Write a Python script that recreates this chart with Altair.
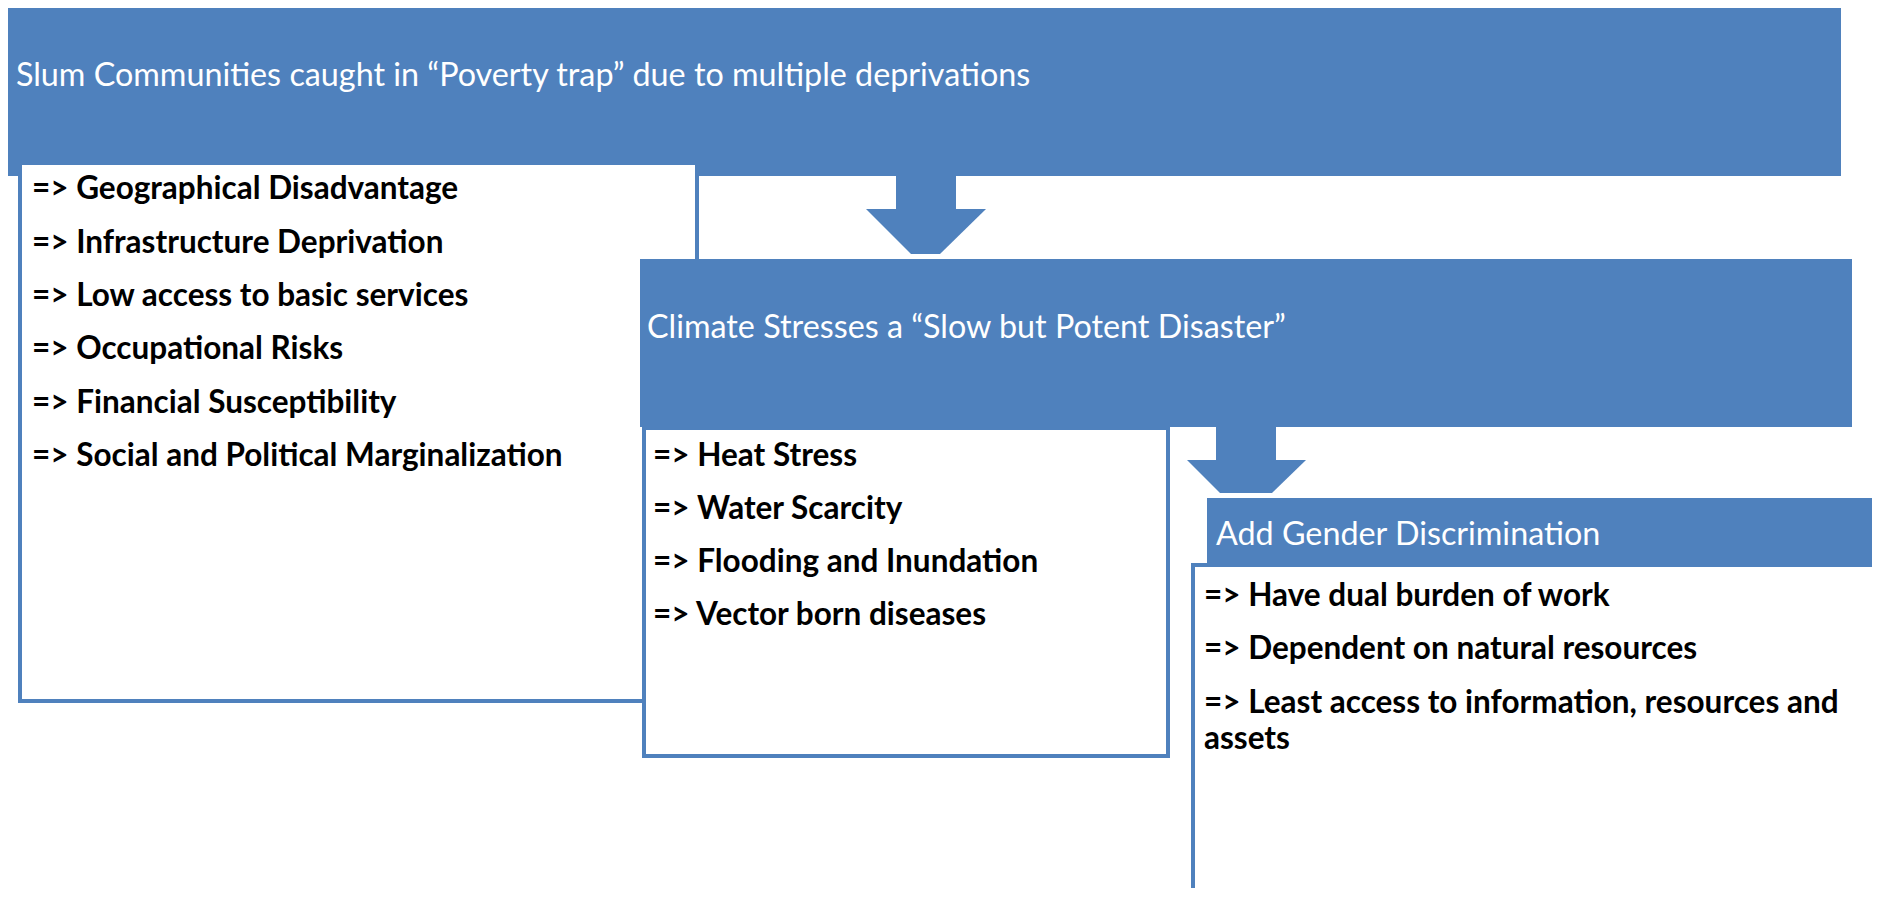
import altair as alt
import pandas as pd

BLUE = "#4F81BD"

# ---- boxes (pixel coordinates of the diagram) ----
rect_names = ["header1", "box1", "header2", "box2", "header3", "box3"]
rect_x0 = [8, 20, 640, 644, 1207, 1193]
rect_x1 = [1841, 697, 1852, 1168, 1900, 1900]
rect_y0 = [8, 163, 259, 428, 498, 565]
rect_y1 = [176, 701, 427, 756, 568, 920]
rect_fill = [BLUE, "white", BLUE, "white", BLUE, "white"]
rect_stroke = [BLUE, BLUE, BLUE, BLUE, BLUE, BLUE]
rect_stroke_w = [0, 4, 0, 4, 0, 4]

# ---- arrows ----
shaft_x0 = [896, 1216]
shaft_x1 = [956, 1276]
shaft_y0 = [176, 427]
shaft_y1 = [210, 461]
head_arrow = ["a1", "a1", "a1", "a1", "a2", "a2", "a2", "a2"]
head_x = [866, 911, 940, 986, 1187, 1220, 1272, 1306]
head_top = [209, 209, 209, 209, 460, 460, 460, 460]
head_bot = [209, 254, 254, 209, 460, 493, 493, 460]

# ---- texts ----
titles = [
    "Slum Communities caught in \u201cPoverty trap\u201d due to multiple deprivations",
    "Climate Stresses a \u201cSlow but Potent Disaster\u201d",
    "Add Gender Discrimination",
]
title_x = [16, 647, 1216]
title_y = [76, 328, 535]

items = [
    "=> Geographical Disadvantage",
    "=> Infrastructure Deprivation",
    "=> Low access to basic services",
    "=> Occupational Risks",
    "=> Financial Susceptibility",
    "=> Social and Political Marginalization",
    "=> Heat Stress",
    "=> Water Scarcity",
    "=> Flooding and Inundation",
    "=> Vector born diseases",
    "=> Have dual burden of work",
    "=> Dependent on natural resources",
    "=> Least access to information, resources and",
    "assets",
]
item_x = [32] * 6 + [653] * 4 + [1204] * 4
item_y = [190, 244, 297, 350, 404, 457, 457, 510, 563, 616, 597, 650, 704, 740]

rects = pd.DataFrame({
    "name": rect_names, "x0": rect_x0, "x1": rect_x1, "y0": rect_y0, "y1": rect_y1,
    "fill": rect_fill, "stroke": rect_stroke, "sw": rect_stroke_w,
    "order": list(range(len(rect_names))),
})
shafts = pd.DataFrame({"x0": shaft_x0, "x1": shaft_x1, "y0": shaft_y0, "y1": shaft_y1})
heads = pd.DataFrame({"arrow": head_arrow, "x": head_x, "top": head_top, "bot": head_bot})
tdf = pd.DataFrame({"label": titles, "x": title_x, "y": title_y})
idf = pd.DataFrame({"label": items, "x": item_x, "y": item_y})

W, H = 1864, 880
xs = alt.Scale(domain=[8, 8 + W], nice=False, zero=False)
ys = alt.Scale(domain=[8, 8 + H], nice=False, zero=False, reverse=True)

def X(f):
    return alt.X(f, type="quantitative", scale=xs, axis=None)

def Y(f):
    return alt.Y(f, type="quantitative", scale=ys, axis=None)

rect_layer = alt.Chart(rects).mark_rect(clip=True).encode(
    x=X("x0"), x2="x1", y=Y("y0"), y2="y1",
    fill=alt.Fill("fill:N", scale=None),
    stroke=alt.Stroke("stroke:N", scale=None),
    strokeWidth=alt.StrokeWidth("sw:Q", scale=None),
    order=alt.Order("order:Q"),
)

shaft_layer = alt.Chart(shafts).mark_rect(color=BLUE).encode(
    x=X("x0"), x2="x1", y=Y("y0"), y2="y1"
)

head_layer = alt.Chart(heads).mark_area(color=BLUE, orient="vertical", opacity=1).encode(
    x=X("x"), y=Y("top"), y2="bot", detail="arrow:N"
)

title_layer = alt.Chart(tdf).mark_text(
    align="left", baseline="middle", font="Lato", fontSize=32.3, color="white"
).encode(x=X("x"), y=Y("y"), text="label:N")

item_layer = alt.Chart(idf).mark_text(
    align="left", baseline="middle", font="Lato", fontSize=31.5, fontWeight="bold", color="black"
).encode(x=X("x"), y=Y("y"), text="label:N")

chart = alt.layer(rect_layer, shaft_layer, head_layer, title_layer, item_layer).properties(
    width=W, height=H, padding=0
).configure_view(stroke=None)

chart.save("out.html", embed_options={"renderer": "svg", "actions": False})
